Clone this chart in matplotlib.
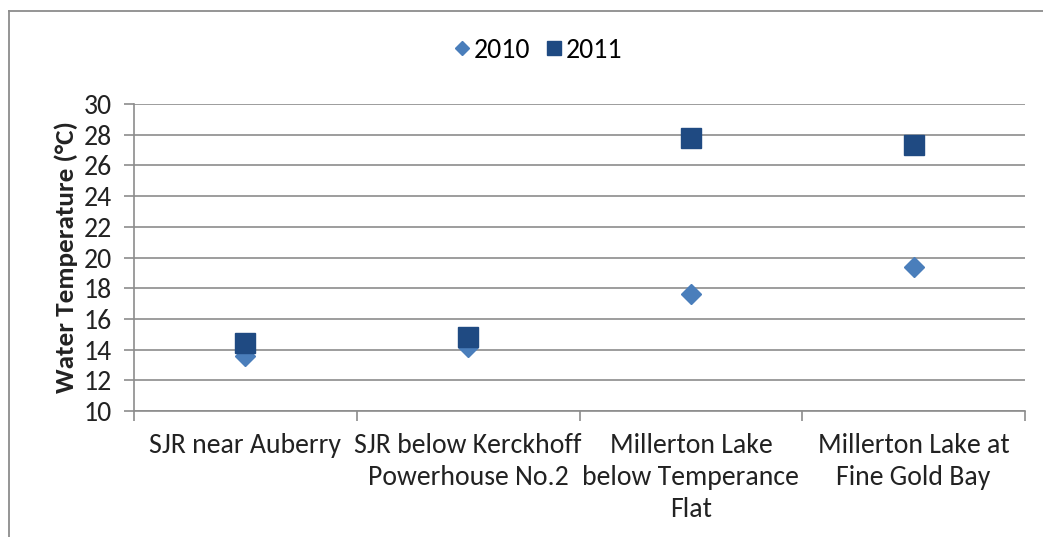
import matplotlib
matplotlib.use("Agg")
import matplotlib.pyplot as plt
from matplotlib.lines import Line2D

plt.rcParams['font.family'] = ['Carlito', 'Lato', 'DejaVu Sans']

sites = ["SJR near Auberry", "SJR below Kerckhoff\nPowerhouse No.2",
         "Millerton Lake\nbelow Temperance\nFlat", "Millerton Lake at\nFine Gold Bay"]
temp_2010 = [13.6, 14.2, 17.6, 19.4]
temp_2011 = [14.4, 14.85, 27.8, 27.3]
y_ticks = list(range(10, 31, 2))

fs = 20

fig = plt.figure(figsize=(10.43, 5.37), dpi=100)
ax = fig.add_axes([134 / 1043, 126 / 537, 891 / 1043, 307 / 537])

x = list(range(1, len(sites) + 1))
ax.plot(x, temp_2010, linestyle='none', marker='D', markersize=10.5,
        color='#4A7EBB', label='2010', zorder=3)
ax.plot(x, temp_2011, linestyle='none', marker='s', markersize=14.5,
        color='#1F4A82', label='2011', zorder=4)

ax.set_xlim(0.5, len(sites) + 0.5)
ax.set_ylim(10, 30)
ax.set_yticks(y_ticks)
ax.yaxis.grid(True, color='#8C8C8C', linewidth=1.2)
ax.set_axisbelow(True)

ax.set_xticks([i + 0.5 for i in range(len(sites) + 1)])
ax.set_xticklabels([])
ax.set_xticks(x, minor=True)
ax.set_xticklabels(sites, minor=True, fontsize=fs, color='#222222',
                   linespacing=1.35)
ax.tick_params(axis='x', which='major', length=7, color='#8C8C8C', width=1.2)
ax.tick_params(axis='x', which='minor', length=0, pad=16)
ax.tick_params(axis='y', length=7, color='#8C8C8C', width=1.2,
               labelsize=fs, labelcolor='#222222', pad=9)

for s in ['top', 'right']:
    ax.spines[s].set_visible(False)
for s in ['left', 'bottom']:
    ax.spines[s].set_color('#8C8C8C')
    ax.spines[s].set_linewidth(1.2)

ax.set_ylabel("Water Temperature (°C)", fontsize=19.5, fontweight='bold',
              color='#222222', labelpad=4)

leg = fig.legend(loc='center', bbox_to_anchor=(537 / 1043, 1 - 50 / 537),
                 ncol=2, frameon=False, fontsize=fs, handletextpad=0.05,
                 columnspacing=0.5, markerscale=0.65, handlelength=0.75)

# outer chart frame (cropped on right and bottom)
fig.add_artist(Line2D([9 / 1043, 1], [1 - 11 / 537, 1 - 11 / 537],
                      color='#8C8C8C', linewidth=1.3))
fig.add_artist(Line2D([9 / 1043, 9 / 1043], [0, 1 - 11 / 537],
                      color='#8C8C8C', linewidth=1.3))

fig.savefig("out.png", dpi=100)
